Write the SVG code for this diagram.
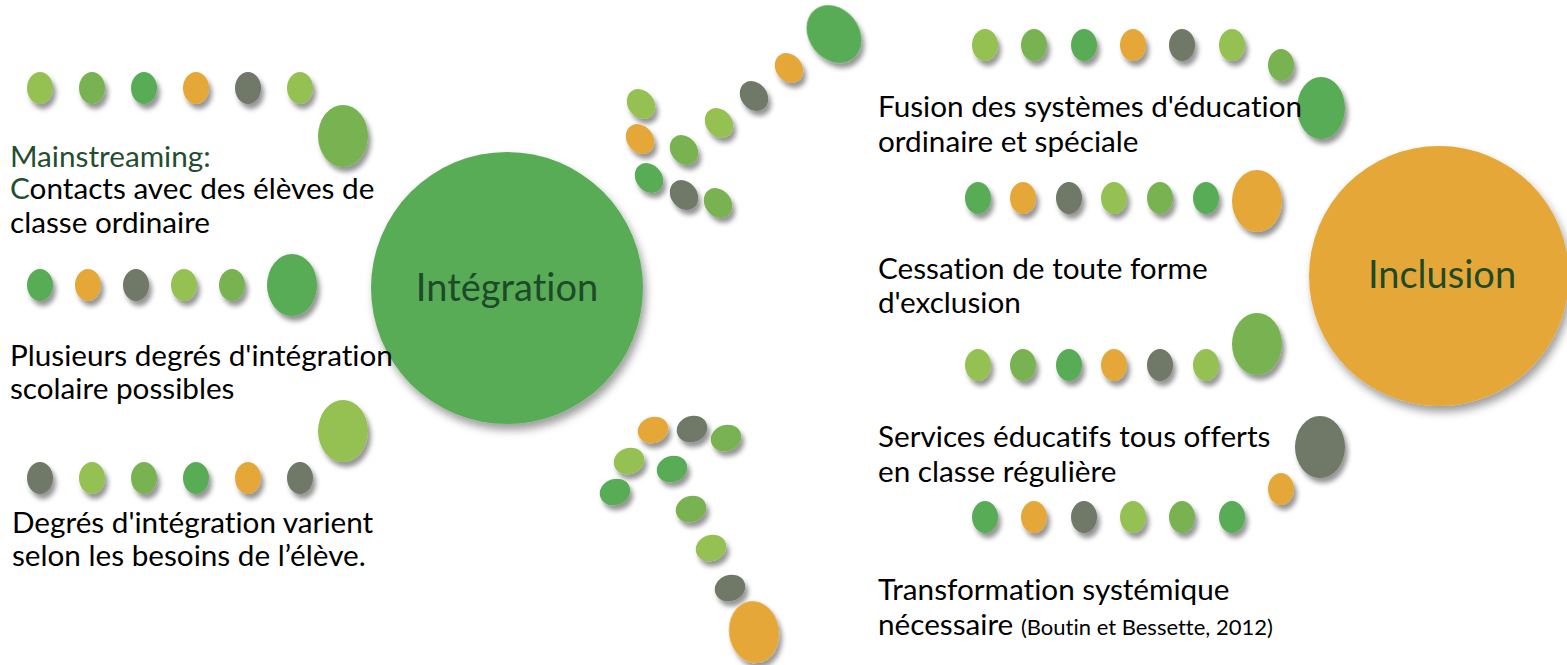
<svg xmlns="http://www.w3.org/2000/svg" width="1567" height="665" viewBox="0 0 1567 665">
  <defs>
    <filter id="sh" x="-40%" y="-40%" width="190%" height="190%">
      <feDropShadow dx="3" dy="5" stdDeviation="2.6" flood-color="#000" flood-opacity="0.42"/>
    </filter>
    <filter id="shBig" x="-20%" y="-20%" width="140%" height="140%">
      <feDropShadow dx="3" dy="6" stdDeviation="4" flood-color="#000" flood-opacity="0.38"/>
    </filter>
  </defs>
  <style>
    .lg { fill: #95C152; }
    .mg { fill: #79B351; }
    .g  { fill: #58AC57; }
    .o  { fill: #E5A838; }
    .gr { fill: #6F7867; }
    .dot { filter: url(#sh); }
    .big { filter: url(#shBig); }
    text { font-variant-ligatures: none; font-feature-settings: "liga" 0, "dlig" 0; }
    .t  { font-family: Lato, "Liberation Sans", sans-serif; font-size: 29.7px; fill: #000; }
    .dk { fill: #1F4E30; }
    .hub { font-family: Lato, "Liberation Sans", sans-serif; font-size: 38px; fill: #1E4A2A; text-anchor: middle; }
    .cite { font-size: 22px; }
  </style>

  <rect width="1567" height="665" fill="#fff"/>

  <!-- main concept circles -->
  <g id="integration">
    <circle class="g big" cx="507" cy="288" r="136"/>
    <text class="hub" x="507" y="301">Intégration</text>
  </g>
  <g id="inclusion">
    <circle class="o big" cx="1439" cy="276" r="130"/>
    <text class="hub" x="1442" y="288">Inclusion</text>
  </g>

  <!-- left column: dot rows -->
  <g id="left-row-1" class="dot">
    <ellipse class="lg" cx="40" cy="88" rx="13" ry="16"/>
    <ellipse class="mg" cx="92" cy="88" rx="13" ry="16"/>
    <ellipse class="g" cx="144" cy="88" rx="13" ry="16"/>
    <ellipse class="o" cx="196" cy="88" rx="13" ry="16"/>
    <ellipse class="gr" cx="248" cy="88" rx="13" ry="16"/>
    <ellipse class="lg" cx="300" cy="88" rx="13" ry="16"/>
    <ellipse class="mg" cx="343" cy="136" rx="25" ry="31"/>
  </g>
  <g id="left-row-2" class="dot">
    <ellipse class="g" cx="40" cy="285" rx="13" ry="16"/>
    <ellipse class="o" cx="88" cy="285" rx="13" ry="16"/>
    <ellipse class="gr" cx="136" cy="285" rx="13" ry="16"/>
    <ellipse class="lg" cx="184" cy="285" rx="13" ry="16"/>
    <ellipse class="mg" cx="232" cy="285" rx="13" ry="16"/>
    <ellipse class="g" cx="292" cy="285" rx="25" ry="31"/>
  </g>
  <g id="left-row-3" class="dot">
    <ellipse class="gr" cx="40" cy="478" rx="13" ry="16"/>
    <ellipse class="lg" cx="92" cy="478" rx="13" ry="16"/>
    <ellipse class="mg" cx="144" cy="478" rx="13" ry="16"/>
    <ellipse class="g" cx="196" cy="478" rx="13" ry="16"/>
    <ellipse class="o" cx="248" cy="478" rx="13" ry="16"/>
    <ellipse class="gr" cx="300" cy="478" rx="13" ry="16"/>
    <ellipse class="lg" cx="343" cy="431" rx="25" ry="31"/>
  </g>

  <!-- left column: labels -->
  <g id="label-mainstreaming">
    <text class="t" x="10" y="167"><tspan class="dk">Mainstreaming:</tspan></text>
    <text class="t" x="10" y="199"><tspan class="dk">C</tspan>ontacts avec des élèves de</text>
    <text class="t" x="10" y="233">classe ordinaire</text>
  </g>
  <g id="label-degres">
    <text class="t" x="10" y="366">Plusieurs degrés d'intégration</text>
    <text class="t" x="10" y="399">scolaire possibles</text>
  </g>
  <g id="label-besoins">
    <text class="t" x="12" y="533">Degrés d'intégration varient</text>
    <text class="t" x="12" y="566">selon les besoins de l’élève.</text>
  </g>

  <!-- right column: dot rows -->
  <g id="right-row-1" class="dot">
    <ellipse class="lg" cx="985" cy="45" rx="13" ry="16"/>
    <ellipse class="mg" cx="1034" cy="45" rx="13" ry="16"/>
    <ellipse class="g" cx="1084" cy="45" rx="13" ry="16"/>
    <ellipse class="o" cx="1133" cy="45" rx="13" ry="16"/>
    <ellipse class="gr" cx="1182" cy="45" rx="13" ry="16"/>
    <ellipse class="lg" cx="1232" cy="45" rx="13" ry="16"/>
    <ellipse class="mg" cx="1281" cy="65" rx="13" ry="16"/>
    <ellipse class="g" cx="1321" cy="108" rx="24" ry="31"/>
  </g>
  <g id="right-row-2" class="dot">
    <ellipse class="g" cx="978" cy="198" rx="13" ry="16"/>
    <ellipse class="o" cx="1023" cy="198" rx="13" ry="16"/>
    <ellipse class="gr" cx="1069" cy="198" rx="13" ry="16"/>
    <ellipse class="lg" cx="1114" cy="198" rx="13" ry="16"/>
    <ellipse class="mg" cx="1160" cy="198" rx="13" ry="16"/>
    <ellipse class="g" cx="1206" cy="198" rx="13" ry="16"/>
    <ellipse class="o" cx="1257" cy="201" rx="25" ry="31"/>
  </g>
  <g id="right-row-3" class="dot">
    <ellipse class="lg" cx="978" cy="365" rx="13" ry="16"/>
    <ellipse class="mg" cx="1023" cy="365" rx="13" ry="16"/>
    <ellipse class="g" cx="1069" cy="365" rx="13" ry="16"/>
    <ellipse class="o" cx="1114" cy="365" rx="13" ry="16"/>
    <ellipse class="gr" cx="1160" cy="365" rx="13" ry="16"/>
    <ellipse class="lg" cx="1206" cy="365" rx="13" ry="16"/>
    <ellipse class="mg" cx="1257" cy="344" rx="25" ry="31"/>
  </g>
  <g id="right-row-4" class="dot">
    <ellipse class="g" cx="985" cy="517" rx="13" ry="16"/>
    <ellipse class="o" cx="1034" cy="517" rx="13" ry="16"/>
    <ellipse class="gr" cx="1084" cy="517" rx="13" ry="16"/>
    <ellipse class="lg" cx="1133" cy="517" rx="13" ry="16"/>
    <ellipse class="mg" cx="1182" cy="517" rx="13" ry="16"/>
    <ellipse class="g" cx="1232" cy="517" rx="13" ry="16"/>
    <ellipse class="o" cx="1281" cy="489" rx="13" ry="16"/>
    <ellipse class="gr" cx="1320" cy="447" rx="25" ry="31"/>
  </g>

  <!-- right column: labels -->
  <g id="label-fusion">
    <text class="t" x="878" y="117">Fusion des systèmes d'éducation</text>
    <text class="t" x="878" y="152">ordinaire et spéciale</text>
  </g>
  <g id="label-exclusion">
    <text class="t" x="878" y="279">Cessation de toute forme</text>
    <text class="t" x="878" y="313">d'exclusion</text>
  </g>
  <g id="label-services">
    <text class="t" x="878" y="447">Services éducatifs tous offerts</text>
    <text class="t" x="878" y="482">en classe régulière</text>
  </g>
  <g id="label-transformation">
    <text class="t" x="878" y="600">Transformation systémique</text>
    <text class="t" x="878" y="635">nécessaire <tspan class="cite">(Boutin et Bessette, 2012)</tspan></text>
  </g>

  <!-- dotted arrows between the two circles -->
  <g id="connectors" class="dot">
    <g id="arrow-up">
      <ellipse class="lg" cx="641" cy="104" rx="13" ry="16" transform="rotate(-38 641 104)"/>
      <ellipse class="o" cx="640" cy="139" rx="13" ry="16" transform="rotate(-38 640 139)"/>
      <ellipse class="g" cx="649" cy="178" rx="13" ry="16" transform="rotate(-38 649 178)"/>
      <ellipse class="gr" cx="684" cy="195" rx="13" ry="16" transform="rotate(-38 684 195)"/>
      <ellipse class="mg" cx="718" cy="203" rx="13" ry="16" transform="rotate(-38 718 203)"/>
      <ellipse class="mg" cx="684" cy="150" rx="13" ry="16" transform="rotate(-38 684 150)"/>
      <ellipse class="lg" cx="719" cy="123" rx="13" ry="16" transform="rotate(-38 719 123)"/>
      <ellipse class="gr" cx="754" cy="96" rx="13" ry="16" transform="rotate(-38 754 96)"/>
      <ellipse class="o" cx="789" cy="68" rx="13" ry="16" transform="rotate(-38 789 68)"/>
      <ellipse class="g" cx="834" cy="34" rx="25" ry="31" transform="rotate(-38 834 34)"/>
    </g>
    <g id="arrow-down">
      <ellipse class="o" cx="653" cy="430" rx="15.5" ry="13" transform="rotate(-20 653 430)"/>
      <ellipse class="gr" cx="692" cy="429" rx="15.5" ry="13" transform="rotate(-20 692 429)"/>
      <ellipse class="mg" cx="726" cy="438" rx="15.5" ry="13" transform="rotate(-20 726 438)"/>
      <ellipse class="lg" cx="629" cy="461" rx="15.5" ry="13" transform="rotate(-20 629 461)"/>
      <ellipse class="g" cx="672" cy="469" rx="15.5" ry="13" transform="rotate(-20 672 469)"/>
      <ellipse class="g" cx="615" cy="492" rx="15.5" ry="13" transform="rotate(-20 615 492)"/>
      <ellipse class="mg" cx="691" cy="509" rx="15.5" ry="13" transform="rotate(-20 691 509)"/>
      <ellipse class="lg" cx="711" cy="548" rx="15.5" ry="13" transform="rotate(-20 711 548)"/>
      <ellipse class="gr" cx="730" cy="588" rx="15.5" ry="13" transform="rotate(-20 730 588)"/>
      <ellipse class="o" cx="754" cy="632" rx="25" ry="31" transform="rotate(-8 754 632)"/>
    </g>
  </g>
</svg>
